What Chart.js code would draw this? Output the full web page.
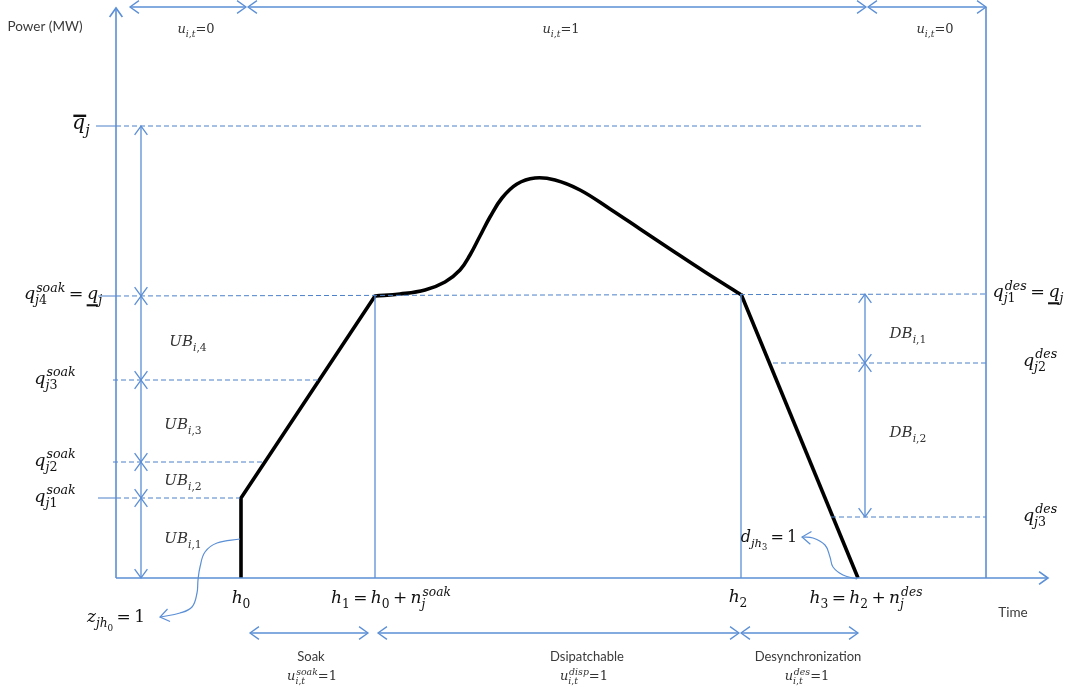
<!DOCTYPE html>
<html>
<head>
<meta charset="utf-8">
<script src="https://cdn.jsdelivr.net/npm/chart.js@4.4.0/dist/chart.umd.min.js"></script>
<style>
  html, body { margin: 0; padding: 0; background: #fff; }
  canvas { display: block; }
</style>
</head>
<body>
<canvas id="c" width="1065" height="693"></canvas>
<script>
// ---- Unit commitment profile (time units on x, MW-scale units on y) ----
const hours = [125, 259, 625, 742];            // h0, h1, h2, h3
const qMax = 452;                              // upper capacity
const qSoak = [80, 116, 198, 282];             // q_j1..q_j4 soak breakpoints
const qDes = [284, 215, 61];                   // q_j1..q_j3 desync breakpoints
const dispatchTime  = [259, 284, 309, 329, 344, 354, 364, 374, 386, 401, 419, 439, 464, 494, 524, 554, 589, 624];
const dispatchPower = [282, 284, 288, 296, 308, 323, 342, 361, 380, 394, 400, 398, 388, 369, 349, 329, 306, 284];

// status spans u_{i,t} along the top and phase spans along the bottom
const statusStart = [14, 132, 752];
const statusEnd   = [130, 750, 870];
const statusText  = ['u_{i,t}=0', 'u_{i,t}=1', 'u_{i,t}=0'];
const phaseStart  = [134, 262, 625];
const phaseEnd    = [252, 623, 742];
const phaseNames  = ['Soak', 'Dsipatchable', 'Desynchronization'];
const phaseVars   = ['u_{i,t}^{soak}=1', 'u_{i,t}^{disp}=1', 'u_{i,t}^{des}=1'];

// pointer curves for the start-up / shut-down indicators
const startPtrT = [124, 101, 89, 84, 82, 81, 76, 64, 44];
const startPtrP = [39, 35, 26, 11, -2, -15, -29, -35, -39];
const stopPtrT  = [741, 727, 717, 714, 709, 697, 686];
const stopPtrP  = [-1, 3, 11, 21, 33, 40, 41];

// ---- frame of the drawing ----
const T_MIN = -116, T_MAX = 949, P_MIN = -115, P_MAX = 578;
const axisTop = 570, axisRight = 932, horizonEnd = 870;
const statusRow = 571, phaseRow = -55;
const ubColumn = 25, dbColumn = 749;

const BLUE = '#5b8fd6', DASH_BLUE = '#4c80c9', INK = '#000';
const MATH_FONT = '"DejaVu Serif"';
const SANS_FONT = 'Lato';

const zip = (ts, ps) => ts.map((t, i) => ({ x: t, y: ps[i] }));
const datasets = [];
function path(points, opt) {
  datasets.push(Object.assign({
    data: points, showLine: true, pointRadius: 0, borderColor: BLUE,
    borderWidth: 1.4, fill: false, tension: 0
  }, opt || {}));
}
function dashed(t0, t1, p0, p1) {
  path([{ x: t0, y: p0 }, { x: t1, y: p1 }], { borderColor: DASH_BLUE, borderWidth: 1, borderDash: [5, 3] });
}
function solid(t0, t1, p0, p1) {
  path([{ x: t0, y: p0 }, { x: t1, y: p1 }], { borderColor: DASH_BLUE, borderWidth: 1 });
}

// axes and horizon boundary
path([{ x: 0, y: 0 }, { x: 0, y: axisTop }], { arrow: 'end', borderWidth: 1.6 });
path([{ x: 0, y: 0 }, { x: axisRight, y: 0 }], { arrow: 'end', borderWidth: 1.6 });
path([{ x: horizonEnd, y: 0 }, { x: horizonEnd, y: statusRow }], { borderWidth: 1.6 });

// capacity and breakpoint guides
solid(-20, 0, qMax, qMax);          dashed(0, 806, qMax, qMax);
solid(-18, 0, qSoak[3], qSoak[3]);  dashed(0, horizonEnd, qSoak[3], qDes[0]);
dashed(-3, 204, qSoak[2], qSoak[2]);
dashed(-3, 146, qSoak[1], qSoak[1]);
solid(-18, 0, qSoak[0], qSoak[0]);  dashed(0, hours[0] - 1, qSoak[0], qSoak[0]);
dashed(657, horizonEnd, qDes[1], qDes[1]);
dashed(715, horizonEnd, qDes[2], qDes[2]);

// phase boundaries at h1 and h2
path([{ x: hours[1], y: 0 }, { x: hours[1], y: qSoak[3] }], { borderWidth: 1.3 });
path([{ x: hours[2], y: 0 }, { x: hours[2], y: qDes[0] }], { borderWidth: 1.3 });

// UB / DB dimension arrows
const ubLevels = [qMax, qSoak[3], qSoak[2], qSoak[1], qSoak[0], 0];
for (let i = 0; i < ubLevels.length - 1; i++)
  path([{ x: ubColumn, y: ubLevels[i] }, { x: ubColumn, y: ubLevels[i + 1] }], { arrow: 'both', borderWidth: 1.3 });
for (let i = 0; i < qDes.length - 1; i++)
  path([{ x: dbColumn, y: qDes[i] }, { x: dbColumn, y: qDes[i + 1] }], { arrow: 'both', borderWidth: 1.3 });

// status and phase spans
statusStart.forEach((s, i) => path([{ x: s, y: statusRow }, { x: statusEnd[i], y: statusRow }], { arrow: 'both', borderWidth: 1.3 }));
phaseStart.forEach((s, i) => path([{ x: s, y: phaseRow }, { x: phaseEnd[i], y: phaseRow }], { arrow: 'both', borderWidth: 1.3 }));

// indicator pointers
path(zip(startPtrT, startPtrP), { arrow: 'end', tension: 0.4, borderWidth: 1.2 });
path(zip(stopPtrT, stopPtrP), { arrow: 'end', tension: 0.4, borderWidth: 1.2 });

// power trajectory: start-up, soak ramp, dispatch, desynchronization
path([{ x: hours[0], y: 0 }, { x: hours[0], y: qSoak[0] }, { x: hours[1], y: qSoak[3] }], { borderColor: INK, borderWidth: 3.6 });
path(zip(dispatchTime, dispatchPower), { borderColor: INK, borderWidth: 3.6, tension: 0.4, borderCapStyle: 'round', borderJoinStyle: 'round' });
path([{ x: hours[2], y: qDes[0] }, { x: hours[3], y: 0 }], { borderColor: INK, borderWidth: 3.6 });

// ---- text annotations (positions in data units) ----
const annotations = [
  { kind: 'sans', text: 'Power (MW)', t: -71, p: 547, size: 13.5 },
  { kind: 'sans', text: 'Time', t: 897, p: -39, size: 13.5 },
  { kind: 'math', text: '\\bar{q}_j', t: -35, p: qMax - 3, size: 20 },
  { kind: 'math', text: 'q_{j4}^{soak} = \\ul{q}_j', t: -53, p: qSoak[3] - 3, size: 17.5 },
  { kind: 'math', text: 'q_{j3}^{soak}', t: -61, p: qSoak[2] - 3.5, size: 17.5 },
  { kind: 'math', text: 'q_{j2}^{soak}', t: -61, p: qSoak[1] - 3.5, size: 17.5 },
  { kind: 'math', text: 'q_{j1}^{soak}', t: -61, p: qSoak[0] - 3.5, size: 17.5 },
  { kind: 'math', text: 'q_{j1}^{des} = \\ul{q}_j', t: 912, p: qDes[0] - 3, size: 17.5 },
  { kind: 'math', text: 'q_{j2}^{des}', t: 924, p: qDes[1] - 2.5, size: 17.5 },
  { kind: 'math', text: 'q_{j3}^{des}', t: 924, p: qDes[2] - 3.5, size: 17.5 },
  { kind: 'math', text: 'UB_{i,4}', t: 72, p: 232, size: 15, color: '#333' },
  { kind: 'math', text: 'UB_{i,3}', t: 67, p: 149, size: 15, color: '#333' },
  { kind: 'math', text: 'UB_{i,2}', t: 67, p: 93, size: 15, color: '#333' },
  { kind: 'math', text: 'UB_{i,1}', t: 67, p: 35, size: 15, color: '#333' },
  { kind: 'math', text: 'DB_{i,1}', t: 792, p: 240, size: 15, color: '#333' },
  { kind: 'math', text: 'DB_{i,2}', t: 792, p: 141, size: 15, color: '#333' },
  { kind: 'math', text: 'h_0', t: hours[0], p: -25, size: 17 },
  { kind: 'math', text: 'h_1 = h_0 + n_j^{soak}', t: 275, p: -25, size: 17 },
  { kind: 'math', text: 'h_2', t: 622, p: -24, size: 17 },
  { kind: 'math', text: 'h_3 = h_2 + n_j^{des}', t: 750, p: -25, size: 17 },
  { kind: 'math', text: 'z_{jh_0} = 1', t: 0, p: -44, size: 17 },
  { kind: 'math', text: 'd_{jh_3} = 1', t: 653, p: 36, size: 16 }
];
statusText.forEach((s, i) => annotations.push({ kind: 'math', text: s, t: [80, 445, 819][i], p: 545, size: 13, color: '#333' }));
phaseNames.forEach((s, i) => annotations.push({ kind: 'sans', text: s, t: [195, 471, 692][i], p: -83, size: 13 }));
phaseVars.forEach((s, i) => annotations.push({ kind: 'math', text: s, t: [196, 468, 691][i], p: -102, size: 13, color: '#333' }));

// ---- tiny math-text layout: italics, sub/superscripts, bar and underline ----
function parseMath(s) {
  let i = 0;
  function atom() {
    const c = s[i];
    if (c === '{') { i++; const body = seq('}'); i++; return { type: 'group', body }; }
    if (c === '\\') {
      let j = i + 1;
      while (j < s.length && /[a-z]/i.test(s[j])) j++;
      const cmd = s.slice(i + 1, j); i = j;
      return { type: cmd, body: [atom()] };
    }
    i++;
    return { type: 'char', ch: c };
  }
  function seq(end) {
    const out = [];
    while (i < s.length && s[i] !== end) {
      const base = atom();
      let sub = null, sup = null;
      while (s[i] === '_' || s[i] === '^') {
        const k = s[i]; i++;
        const a = atom();
        if (k === '_') sub = a; else sup = a;
      }
      out.push(sub || sup ? { type: 'script', base, sub, sup } : base);
    }
    return out;
  }
  return seq(undefined);
}
function layoutSeq(ctx, nodes, x, y, size, draw) {
  let w = 0;
  for (const n of nodes) w += layoutNode(ctx, n, x + w, y, size, draw);
  return w;
}
function layoutNode(ctx, n, x, y, size, draw) {
  switch (n.type) {
    case 'char': {
      if (n.ch === ' ') return size * 0.2;
      const italic = /[A-Za-z]/.test(n.ch);
      ctx.font = (italic ? 'italic ' : '') + size + 'px ' + MATH_FONT;
      if (draw) ctx.fillText(n.ch, x, y);
      return ctx.measureText(n.ch).width;
    }
    case 'group': return layoutSeq(ctx, n.body, x, y, size, draw);
    case 'script': {
      const bw = layoutNode(ctx, n.base, x, y, size, draw);
      const ss = size * 0.72;
      let sw = 0, pw = 0;
      if (n.sub) sw = layoutNode(ctx, n.sub, x + bw, y + size * 0.3, ss, draw);
      if (n.sup) pw = layoutNode(ctx, n.sup, x + bw + size * 0.06, y - size * 0.42, ss, draw) + size * 0.06;
      return bw + Math.max(sw, pw);
    }
    case 'bar': {
      const w = layoutSeq(ctx, n.body, x, y, size, draw);
      if (draw) ctx.fillRect(x + size * 0.05, y - size * 0.72, w, size * 0.12);
      return w;
    }
    case 'ul': {
      const w = layoutSeq(ctx, n.body, x, y, size, draw);
      if (draw) ctx.fillRect(x - size * 0.02, y + size * 0.3, w, size * 0.12);
      return w;
    }
    default: return layoutSeq(ctx, n.body || [], x, y, size, draw);
  }
}

const annotationPlugin = {
  id: 'annotationText',
  afterDatasetsDraw(chart) {
    const ctx = chart.ctx, xs = chart.scales.x, ys = chart.scales.y;
    ctx.save();
    ctx.textBaseline = 'alphabetic';
    ctx.textAlign = 'left';
    for (const a of annotations) {
      const cx = xs.getPixelForValue(a.t), by = ys.getPixelForValue(a.p);
      ctx.fillStyle = a.color || (a.kind === 'sans' ? '#3a3a3a' : '#111');
      if (a.kind === 'sans') {
        ctx.font = a.size + 'px ' + SANS_FONT;
        const w = ctx.measureText(a.text).width;
        ctx.fillText(a.text, cx - w / 2, by);
      } else {
        const nodes = parseMath(a.text);
        const w = layoutSeq(ctx, nodes, 0, 0, a.size, false);
        layoutSeq(ctx, nodes, cx - w / 2, by, a.size, true);
      }
    }
    ctx.restore();
  }
};

// open chevron heads on paths flagged with `arrow`
const arrowPlugin = {
  id: 'arrowHeads',
  afterDatasetsDraw(chart) {
    const ctx = chart.ctx;
    chart.data.datasets.forEach((d, i) => {
      if (!d.arrow) return;
      const pts = chart.getDatasetMeta(i).data;
      const head = (tip, from) => {
        const a = Math.atan2(tip.y - from.y, tip.x - from.x), L = 11, th = 0.62;
        ctx.beginPath();
        ctx.moveTo(tip.x - L * Math.cos(a - th), tip.y - L * Math.sin(a - th));
        ctx.lineTo(tip.x, tip.y);
        ctx.lineTo(tip.x - L * Math.cos(a + th), tip.y - L * Math.sin(a + th));
        ctx.stroke();
      };
      ctx.save();
      ctx.strokeStyle = d.borderColor;
      ctx.lineWidth = d.borderWidth;
      ctx.lineJoin = 'miter';
      const n = pts.length;
      head(pts[n - 1], pts[n - 2]);
      if (d.arrow === 'both') head(pts[0], pts[1]);
      ctx.restore();
    });
  }
};

new Chart(document.getElementById('c'), {
  type: 'scatter',
  data: { datasets },
  options: {
    responsive: false,
    devicePixelRatio: 1,
    animation: false,
    layout: { padding: 0 },
    plugins: { legend: { display: false }, tooltip: { enabled: false } },
    scales: {
      x: { type: 'linear', min: T_MIN, max: T_MAX, display: false },
      y: { type: 'linear', min: P_MIN, max: P_MAX, display: false }
    }
  },
  plugins: [arrowPlugin, annotationPlugin]
});
</script>
</body>
</html>
